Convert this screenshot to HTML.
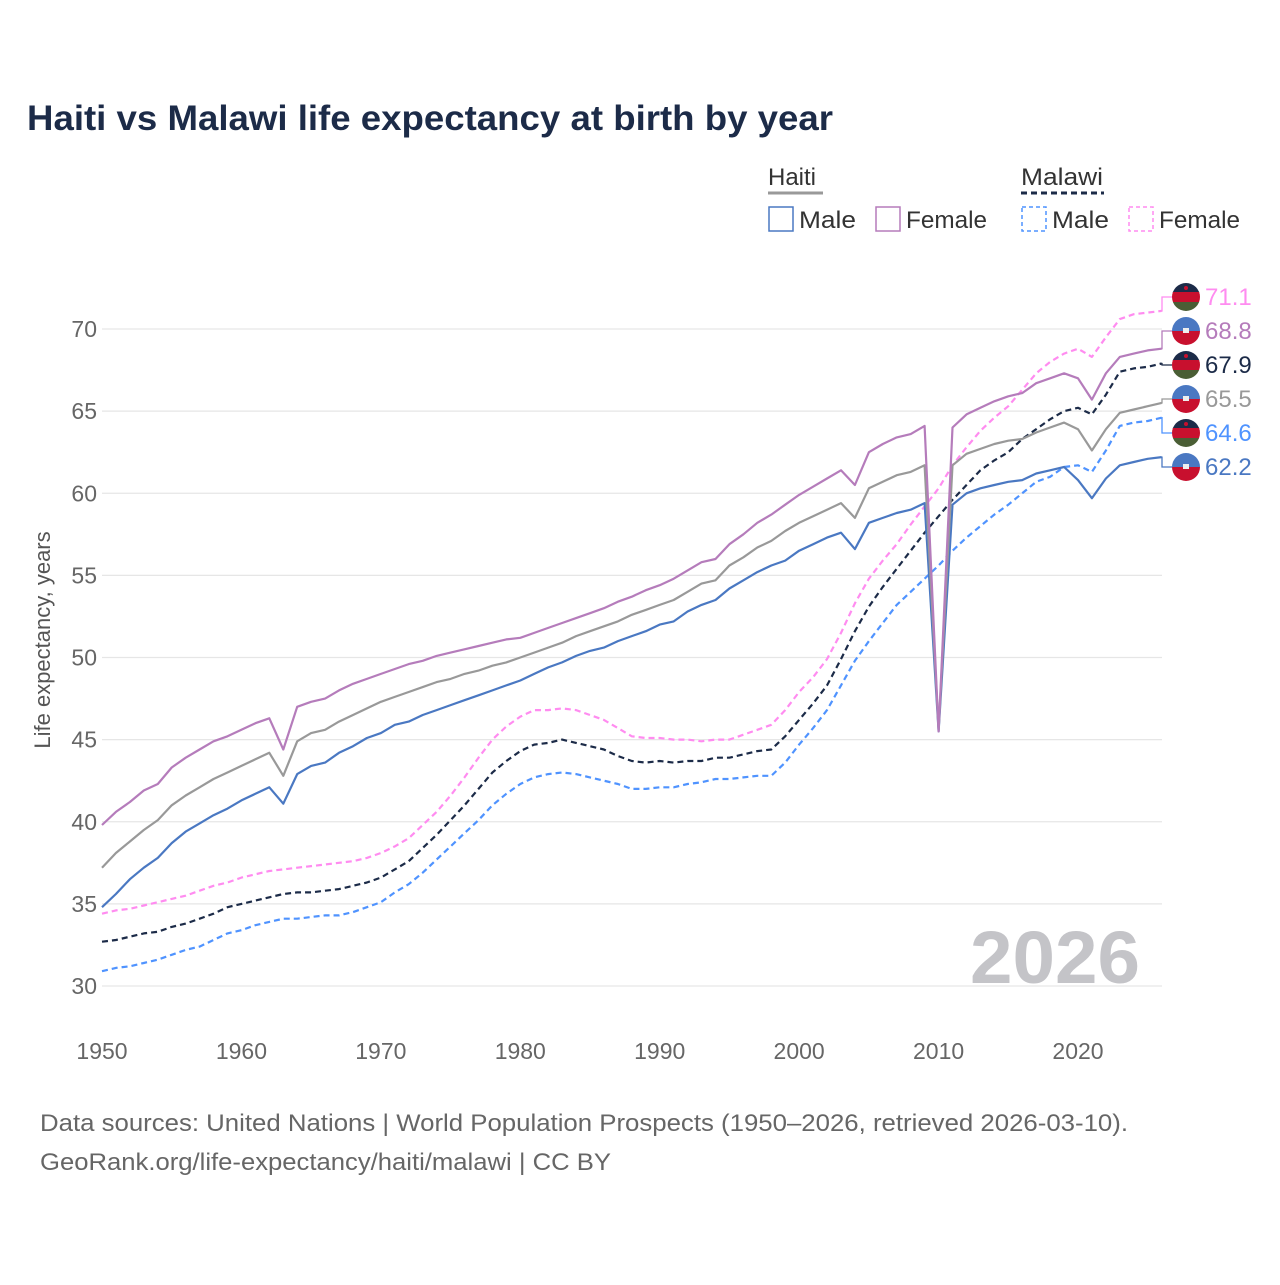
<!DOCTYPE html>
<html><head><meta charset="utf-8"><style>
body{margin:0;background:#fff;font-family:"Liberation Sans",sans-serif}
svg text{font-family:"Liberation Sans",sans-serif}
</style></head><body>
<svg id="chart" width="1280" height="1280" viewBox="0 0 1280 1280">
<text x="27" y="130" font-size="35" font-weight="bold" fill="#1c2b48" textLength="806" lengthAdjust="spacingAndGlyphs">Haiti vs Malawi life expectancy at birth by year</text>
<g>
<text x="768" y="185" font-size="24" fill="#333">Haiti</text>
<line x1="768" y1="193" x2="823" y2="193" stroke="#999" stroke-width="3"/>
<text x="1021" y="185" font-size="24" fill="#333" textLength="82" lengthAdjust="spacingAndGlyphs">Malawi</text>
<line x1="1021" y1="193" x2="1104" y2="193" stroke="#1c2b48" stroke-width="3" stroke-dasharray="6,4"/>
<g><rect x="769" y="207" width="24" height="24" fill="none" stroke="#4a78c2" stroke-width="1.5"/><text x="799" y="228" font-size="24" fill="#333" textLength="57" lengthAdjust="spacingAndGlyphs">Male</text></g>
<g><rect x="876" y="207" width="24" height="24" fill="none" stroke="#b57cbb" stroke-width="1.5"/><text x="906" y="228" font-size="24" fill="#333" textLength="81" lengthAdjust="spacingAndGlyphs">Female</text></g>
<g><rect x="1022" y="207" width="24" height="24" fill="none" stroke="#4f93ff" stroke-width="1.5" stroke-dasharray="4,3"/><text x="1052" y="228" font-size="24" fill="#333" textLength="57" lengthAdjust="spacingAndGlyphs">Male</text></g>
<g><rect x="1129" y="207" width="24" height="24" fill="none" stroke="#ff8cf0" stroke-width="1.5" stroke-dasharray="4,3"/><text x="1159" y="228" font-size="24" fill="#333" textLength="81" lengthAdjust="spacingAndGlyphs">Female</text></g>
</g>
<g id="grid"></g>
<text x="1140" y="983" font-size="74" font-weight="bold" fill="#c4c4c8" text-anchor="end" textLength="170" lengthAdjust="spacingAndGlyphs">2026</text>
<g id="series"></g>
<g id="labels"></g>
<text transform="translate(50,640) rotate(-90)" font-size="22" fill="#555" text-anchor="middle">Life expectancy, years</text>
<text x="40" y="1131" font-size="24" fill="#666" textLength="1088" lengthAdjust="spacingAndGlyphs">Data sources: United Nations | World Population Prospects (1950–2026, retrieved 2026-03-10).</text>
<text x="40" y="1170" font-size="24" fill="#666" textLength="571" lengthAdjust="spacingAndGlyphs">GeoRank.org/life-expectancy/haiti/malawi | CC BY</text>
</svg>
<script>
const startYear = 1950;
const xTicks = [1950,1960,1970,1980,1990,2000,2010,2020];
const yTicks = [30,35,40,45,50,55,60,65,70];
const haitiMale = [34.8,35.6,36.5,37.2,37.8,38.7,39.4,39.9,40.4,40.8,41.3,41.7,42.1,41.1,42.9,43.4,43.6,44.2,44.6,45.1,45.4,45.9,46.1,46.5,46.8,47.1,47.4,47.7,48.0,48.3,48.6,49.0,49.4,49.7,50.1,50.4,50.6,51.0,51.3,51.6,52.0,52.2,52.8,53.2,53.5,54.2,54.7,55.2,55.6,55.9,56.5,56.9,57.3,57.6,56.6,58.2,58.5,58.8,59.0,59.4,45.5,59.3,60.0,60.3,60.5,60.7,60.8,61.2,61.4,61.6,60.8,59.7,60.9,61.7,61.9,62.1,62.2];
const haitiAll = [37.2,38.1,38.8,39.5,40.1,41.0,41.6,42.1,42.6,43.0,43.4,43.8,44.2,42.8,44.9,45.4,45.6,46.1,46.5,46.9,47.3,47.6,47.9,48.2,48.5,48.7,49.0,49.2,49.5,49.7,50.0,50.3,50.6,50.9,51.3,51.6,51.9,52.2,52.6,52.9,53.2,53.5,54.0,54.5,54.7,55.6,56.1,56.7,57.1,57.7,58.2,58.6,59.0,59.4,58.5,60.3,60.7,61.1,61.3,61.7,45.6,61.7,62.4,62.7,63.0,63.2,63.3,63.7,64.0,64.3,63.9,62.6,63.9,64.9,65.1,65.3,65.5];
const haitiFemale = [39.8,40.6,41.2,41.9,42.3,43.3,43.9,44.4,44.9,45.2,45.6,46.0,46.3,44.4,47.0,47.3,47.5,48.0,48.4,48.7,49.0,49.3,49.6,49.8,50.1,50.3,50.5,50.7,50.9,51.1,51.2,51.5,51.8,52.1,52.4,52.7,53.0,53.4,53.7,54.1,54.4,54.8,55.3,55.8,56.0,56.9,57.5,58.2,58.7,59.3,59.9,60.4,60.9,61.4,60.5,62.5,63.0,63.4,63.6,64.1,45.5,64.0,64.8,65.2,65.6,65.9,66.1,66.7,67.0,67.3,67.0,65.7,67.3,68.3,68.5,68.7,68.8];
const malawiAll = [32.7,32.8,33.0,33.2,33.3,33.6,33.8,34.1,34.4,34.8,35.0,35.2,35.4,35.6,35.7,35.7,35.8,35.9,36.1,36.3,36.6,37.1,37.6,38.4,39.2,40.1,41.0,42.0,43.0,43.7,44.3,44.7,44.8,45.0,44.8,44.6,44.4,44.0,43.7,43.6,43.7,43.6,43.7,43.7,43.9,43.9,44.1,44.3,44.4,45.2,46.2,47.2,48.3,49.9,51.6,53.1,54.3,55.4,56.5,57.6,58.6,59.6,60.5,61.4,62.0,62.5,63.3,63.9,64.5,65.0,65.2,64.8,66.0,67.4,67.6,67.7,67.9];
const malawiFemale = [34.4,34.6,34.7,34.9,35.1,35.3,35.5,35.8,36.1,36.3,36.6,36.8,37.0,37.1,37.2,37.3,37.4,37.5,37.6,37.8,38.1,38.5,39.0,39.8,40.6,41.6,42.7,43.9,45.0,45.8,46.4,46.8,46.8,46.9,46.8,46.5,46.2,45.7,45.2,45.1,45.1,45.0,45.0,44.9,45.0,45.0,45.3,45.6,45.9,46.8,47.9,48.8,49.9,51.5,53.3,54.8,55.9,56.9,58.1,59.2,60.3,61.7,62.8,63.8,64.6,65.3,66.3,67.3,68.0,68.5,68.8,68.3,69.5,70.6,70.9,71.0,71.1];
const malawiMale = [30.9,31.1,31.2,31.4,31.6,31.9,32.2,32.4,32.8,33.2,33.4,33.7,33.9,34.1,34.1,34.2,34.3,34.3,34.5,34.8,35.1,35.7,36.2,36.9,37.7,38.5,39.3,40.1,41.0,41.7,42.3,42.7,42.9,43.0,42.9,42.7,42.5,42.3,42.0,42.0,42.1,42.1,42.3,42.4,42.6,42.6,42.7,42.8,42.8,43.6,44.7,45.7,46.8,48.3,49.8,51.0,52.1,53.2,54.0,54.8,55.6,56.5,57.3,58.0,58.7,59.3,60.0,60.7,61.0,61.6,61.7,61.3,62.6,64.1,64.3,64.4,64.6];

const NS='http://www.w3.org/2000/svg';
const x = yr => 102 + (yr-1950)*(1078-102)/70;
const y = v => 986 - (v-30)*(986-329)/40;
const grid=document.getElementById('grid');
yTicks.forEach(t=>{
  const l=document.createElementNS(NS,'line');
  l.setAttribute('x1',102);l.setAttribute('x2',1162);l.setAttribute('y1',y(t));l.setAttribute('y2',y(t));
  l.setAttribute('stroke','#e6e6e6');l.setAttribute('stroke-width','1.3');
  
  
  grid.appendChild(l);
  const tx=document.createElementNS(NS,'text');
  tx.setAttribute('x',97);tx.setAttribute('y',y(t)+8);tx.setAttribute('text-anchor','end');
  tx.setAttribute('font-size','23');tx.setAttribute('fill','#666');tx.textContent=t;
  
  
  grid.appendChild(tx);
});
xTicks.forEach(t=>{
  const tx=document.createElementNS(NS,'text');
  tx.setAttribute('x',x(t));tx.setAttribute('y',1059);tx.setAttribute('text-anchor','middle');
  tx.setAttribute('font-size','23');tx.setAttribute('fill','#666');tx.textContent=t;
  
  
  grid.appendChild(tx);
});
const series=[
 [malawiMale,'#4f93ff',true,'malawi-male-line'],
 [malawiFemale,'#ff8cf0',true,'malawi-female-line'],
 [malawiAll,'#1c2b48',true,'malawi-all-line'],
 [haitiMale,'#4a78c2',false,'haiti-male-line'],
 [haitiAll,'#999999',false,'haiti-all-line'],
 [haitiFemale,'#b57cbb',false,'haiti-female-line']
];
const sg=document.getElementById('series');
series.forEach(([d,c,dash,name])=>{
  const p=document.createElementNS(NS,'path');
  p.setAttribute('d',d.map((v,i)=>(i?'L':'M')+x(startYear+i).toFixed(1)+','+y(v).toFixed(1)).join(''));
  p.setAttribute('fill','none');p.setAttribute('stroke',c);p.setAttribute('stroke-width','2.2');
  p.setAttribute('stroke-linejoin','round');
  if(dash)p.setAttribute('stroke-dasharray','6,4');
  
  
  sg.appendChild(p);
});
const endLabels=[
 [malawiFemale,'#ff8cf0','malawi'],[haitiFemale,'#b57cbb','haiti'],[malawiAll,'#1c2b48','malawi'],
 [haitiAll,'#999999','haiti'],[malawiMale,'#4f93ff','malawi'],[haitiMale,'#4a78c2','haiti']
].sort((a,b)=>b[0][b[0].length-1]-a[0][a[0].length-1]);
const lg=document.getElementById('labels');
endLabels.forEach(([d,c,country],i)=>{
  const v=d[d.length-1];
  const cy=297+i*34;
  const g=document.createElementNS(NS,'g');
  
  
  const ly=y(v);
  const conn=document.createElementNS(NS,'path');
  conn.setAttribute('d',`M${x(2026)},${ly}H1162V${cy}H1172`);
  conn.setAttribute('fill','none');conn.setAttribute('stroke',c);conn.setAttribute('stroke-width','1.3');
  g.appendChild(conn);
  const cx=1186,r=14;
  let inner='';
  if(country==='malawi'){
    inner=`<clipPath id="c${i}"><circle cx="${cx}" cy="${cy}" r="${r}"/></clipPath><g clip-path="url(#c${i})"><rect x="${cx-r}" y="${cy-r}" width="28" height="10" fill="#1c2b48"/><rect x="${cx-r}" y="${cy-r+9}" width="28" height="10" fill="#c8102e"/><rect x="${cx-r}" y="${cy-r+19}" width="28" height="10" fill="#4a5e35"/><circle cx="${cx}" cy="${cy-9}" r="2" fill="#c8102e"/></g>`;
  } else {
    inner=`<clipPath id="c${i}"><circle cx="${cx}" cy="${cy}" r="${r}"/></clipPath><g clip-path="url(#c${i})"><rect x="${cx-r}" y="${cy-r}" width="28" height="14" fill="#4a78c2"/><rect x="${cx-r}" y="${cy}" width="28" height="14" fill="#c8102e"/><rect x="${cx-3}" y="${cy-3}" width="6" height="5" fill="#eee"/></g>`;
  }
  g.insertAdjacentHTML('beforeend',inner);
  const t=document.createElementNS(NS,'text');
  t.setAttribute('x',1205);t.setAttribute('y',cy+8);t.setAttribute('font-size','24');t.setAttribute('fill',c);
  t.textContent=v.toFixed(1);
  g.appendChild(t);
  lg.appendChild(g);
});
</script>
</body></html>
